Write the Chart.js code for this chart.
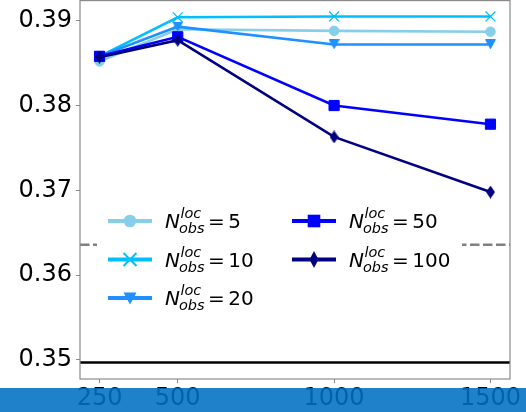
<!DOCTYPE html>
<html>
<head>
<meta charset="utf-8">
<script src="https://cdn.jsdelivr.net/npm/chart.js@4/dist/chart.umd.min.js"></script>
<style>
  html, body { margin: 0; padding: 0; background: #fff; }
  #wrap { position: relative; width: 526px; height: 412px; overflow: hidden; }
  #bar { position: absolute; left: 0; top: 388px; width: 526px; height: 24px; background: rgba(0, 111, 193, 0.88); }
</style>
</head>
<body>
<div id="wrap">
  <canvas id="chart" width="526" height="412"></canvas>
  <div id="bar"></div>
</div>
<script>
/* ---------- data ---------- */
const xValues = [250, 500, 1000, 1500];
const obsCounts = ["5", "10", "20", "50", "100"];
const seriesN5 = [0.3852, 0.3890, 0.3888, 0.3887];
const seriesN10 = [0.3858, 0.3904, 0.3905, 0.3905];
const seriesN20 = [0.3858, 0.3893, 0.3872, 0.3872];
const seriesN50 = [0.3858, 0.3881, 0.3800, 0.3778];
const seriesN100 = [0.3857, 0.3877, 0.3763, 0.3698];
const xTicks = [250, 500, 1000, 1500];
const yTicks = [0.35, 0.36, 0.37, 0.38, 0.39];
const dashedLevel = 0.3636;
const solidLevel = 0.3497;

const allSeries = [seriesN5, seriesN10, seriesN20, seriesN50, seriesN100];
const colors = ["#87CEEB", "#00BFFF", "#1E90FF", "#0000FF", "#000080"];
const markers = ["circle", "x", "tri", "square", "diamond"];

/* ---------- marker images ---------- */
function shapeCanvas(kind, w, h, color) {
    const c = document.createElement("canvas");
    c.width = w; c.height = h;
    const g = c.getContext("2d");
    g.fillStyle = color;
    g.beginPath();
    if (kind === "tri") {
        g.moveTo(0, 0); g.lineTo(w, 0); g.lineTo(w / 2, h);
    } else {
        g.moveTo(w / 2, 0); g.lineTo(w, h / 2); g.lineTo(w / 2, h); g.lineTo(0, h / 2);
    }
    g.closePath();
    g.fill();
    return c;
}

function pointOpts(kind, color) {
    if (kind === "circle") return { pointStyle: "circle", pointRadius: 4.8, pointBorderWidth: 1 };
    if (kind === "x") return { pointStyle: "crossRot", pointRadius: 7, pointBorderWidth: 1.3 };
    if (kind === "square") return { pointStyle: "rect", pointRadius: 7.2, pointBorderWidth: 1 };
    if (kind === "tri") return { pointStyle: shapeCanvas("tri", 11, 10, color), pointRadius: 6 };
    return { pointStyle: shapeCanvas("diamond", 9, 13, color), pointRadius: 6 };
}

/* ---------- legend with sub/superscripts ---------- */
function drawMarker(ctx, kind, x, y, color) {
    ctx.save();
    ctx.fillStyle = color;
    ctx.strokeStyle = color;
    ctx.beginPath();
    if (kind === "circle") {
        ctx.arc(x, y, 6.3, 0, Math.PI * 2);
        ctx.fill();
    } else if (kind === "x") {
        ctx.lineWidth = 2;
        ctx.moveTo(x - 6.5, y - 6.5); ctx.lineTo(x + 6.5, y + 6.5);
        ctx.moveTo(x + 6.5, y - 6.5); ctx.lineTo(x - 6.5, y + 6.5);
        ctx.stroke();
    } else if (kind === "square") {
        ctx.rect(x - 6.3, y - 6.3, 12.6, 12.6);
        ctx.fill();
    } else if (kind === "tri") {
        ctx.moveTo(x - 6.5, y - 5.5); ctx.lineTo(x + 6.5, y - 5.5); ctx.lineTo(x, y + 6.5);
        ctx.closePath(); ctx.fill();
    } else {
        ctx.moveTo(x, y - 8.5); ctx.lineTo(x + 4.5, y); ctx.lineTo(x, y + 8.5); ctx.lineTo(x - 4.5, y);
        ctx.closePath(); ctx.fill();
    }
    ctx.restore();
}

function drawLabel(ctx, x, yc, value) {
    const base = yc + 7;
    ctx.save();
    ctx.fillStyle = "#000";
    ctx.textBaseline = "alphabetic";
    ctx.textAlign = "left";
    ctx.font = "italic 20px 'DejaVu Sans'";
    ctx.fillText("N", x, base);
    const sx = x + ctx.measureText("N").width;
    ctx.font = "italic 14.5px 'DejaVu Sans'";
    ctx.fillText("loc", sx + 0.5, base - 10);
    ctx.fillText("obs", sx - 1, base + 5);
    const endScripts = sx - 1 + ctx.measureText("obs").width;
    ctx.font = "20px 'DejaVu Sans'";
    const ex = endScripts + 3.5;
    ctx.fillText("=", ex, base);
    ctx.fillText(value, ex + ctx.measureText("=").width + 3.5, base);
    ctx.restore();
}

const decorPlugin = {
    id: "decor",
    beforeDatasetsDraw(chart) {
        const { ctx, chartArea: a, scales: { y } } = chart;
        ctx.save();
        ctx.beginPath();
        ctx.rect(a.left, a.top, a.right - a.left, a.bottom - a.top);
        ctx.clip();
        ctx.lineWidth = 2.5;
        ctx.strokeStyle = "#808080";
        ctx.setLineDash([9.5, 3.5]);
        ctx.beginPath();
        const yd = y.getPixelForValue(dashedLevel);
        ctx.moveTo(a.left, yd); ctx.lineTo(a.right, yd);
        ctx.stroke();
        ctx.setLineDash([]);
        ctx.strokeStyle = "#000";
        ctx.beginPath();
        const ys = y.getPixelForValue(solidLevel);
        ctx.moveTo(a.left, ys); ctx.lineTo(a.right, ys);
        ctx.stroke();
        ctx.restore();
    },
    afterDatasetsDraw(chart) {
        const { ctx, chartArea: a } = chart;
        ctx.save();
        ctx.fillStyle = "#fff";
        ctx.fillRect(a.left + 17, a.top + 200, 365, 120);
        const rows = [221, 259.5, 298];
        const cols = [28, 212];
        obsCounts.forEach((n, i) => {
            const col = i < 3 ? 0 : 1;
            const row = i < 3 ? i : i - 3;
            const hx = a.left + cols[col];
            const hy = a.top + rows[row];
            ctx.strokeStyle = colors[i];
            ctx.lineWidth = 4;
            ctx.beginPath();
            ctx.moveTo(hx, hy); ctx.lineTo(hx + 44, hy);
            ctx.stroke();
            drawMarker(ctx, markers[i], hx + 22, hy, colors[i]);
            drawLabel(ctx, hx + 57, hy, n);
        });
        ctx.restore();
    },
    afterDraw(chart) {
        const { ctx, chartArea: a } = chart;
        ctx.save();
        ctx.strokeStyle = "#8a8a8a";
        ctx.lineWidth = 1.2;
        ctx.strokeRect(a.left, a.top + 0.6, a.right - a.left, a.bottom - a.top - 0.6);
        ctx.restore();
    }
};

/* ---------- chart ---------- */
const datasets = allSeries.map((s, i) => Object.assign({
    label: "N_obs^loc = " + obsCounts[i],
    data: xValues.map((x, j) => ({ x: x, y: s[j] })),
    borderColor: colors[i],
    backgroundColor: colors[i],
    pointBackgroundColor: colors[i],
    pointBorderColor: colors[i],
    borderWidth: 2.6,
    tension: 0,
    order: 5 - i
}, pointOpts(markers[i], colors[i])));

const tickFont = { family: "'DejaVu Sans'", size: 24 };

new Chart(document.getElementById("chart"), {
    type: "line",
    data: { datasets: datasets },
    options: {
        responsive: false,
        animation: false,
        events: [],
        layout: { padding: { top: 0, right: 16, left: 0, bottom: 0 }, autoPadding: false },
        plugins: { legend: { display: false }, tooltip: { enabled: false } },
        scales: {
            x: {
                type: "linear",
                min: 187.5,
                max: 1562.5,
                afterBuildTicks: s => { s.ticks = xTicks.map(v => ({ value: v })); },
                afterFit: s => { s.height = 33; s.paddingLeft = 0; s.paddingRight = 0; },
                grid: { drawOnChartArea: false, tickLength: 4, color: "#8a8a8a", lineWidth: 1 },
                border: { display: false },
                ticks: { font: tickFont, color: "#000", padding: 1, maxRotation: 0, autoSkip: false, callback: v => String(v) }
            },
            y: {
                min: 0.34776,
                max: 0.39244,
                afterBuildTicks: s => { s.ticks = yTicks.map(v => ({ value: v })); },
                afterFit: s => { s.width = 80; s.paddingTop = 0; s.paddingBottom = 0; },
                grid: { drawOnChartArea: false, tickLength: 4, color: "#8a8a8a", lineWidth: 1 },
                border: { display: false },
                ticks: { font: tickFont, color: "#000", padding: 4, autoSkip: false, callback: v => v.toFixed(2) }
            }
        }
    },
    plugins: [decorPlugin]
});
</script>
</body>
</html>
